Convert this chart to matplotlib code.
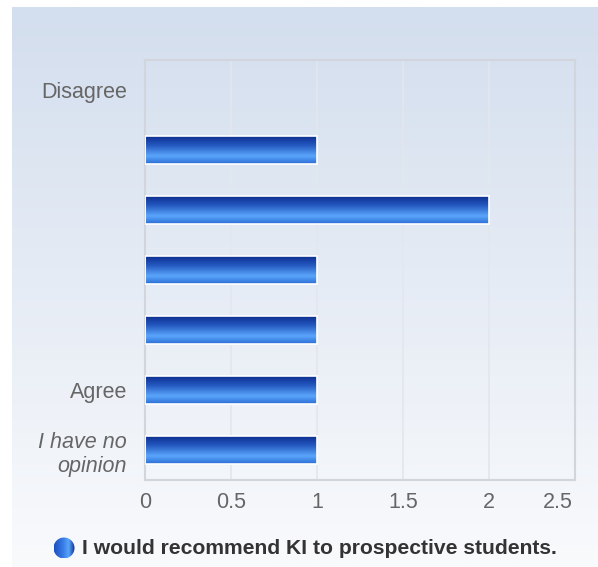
import matplotlib.pyplot as plt
import numpy as np
from matplotlib.colors import LinearSegmentedColormap
from matplotlib.patches import Circle
from matplotlib.transforms import ScaledTranslation

# datos del grafico
categorias = ["Disagree", "", "", "", "", "Agree", "I have no\nopinion"]
valores = [0, 1, 2, 1, 1, 1, 1]
ticks_x = [0, 0.5, 1, 1.5, 2, 2.5]
titulo_serie = "I would recommend KI to prospective students."

plt.rcParams['font.family'] = ['Liberation Sans', 'DejaVu Sans']

W, H = 598, 567
fig = plt.figure(figsize=(W / 100, H / 100), dpi=100)
fig.patch.set_facecolor("white")

# fondo con degradado
bg = fig.add_axes([12 / W, 0, 1 - 12 / W, 1 - 7 / H])
bg.axis("off")
cmap_bg = LinearSegmentedColormap.from_list("bg", ["#d3deee", "#e6ecf5", "#f9fafc"])
grad = np.linspace(0, 1, 256).reshape(-1, 1)
bg.imshow(grad, aspect="auto", cmap=cmap_bg, extent=[0, 1, 0, 1], origin="upper")
bg.set_xlim(0, 1)
bg.set_ylim(0, 1)

# area del grafico
x0, x1, y0, y1 = 145, 575, 60, 480
ax = fig.add_axes([x0 / W, 1 - y1 / H, (x1 - x0) / W, (y1 - y0) / H])
ax.patch.set_alpha(0)

cmap_bar = LinearSegmentedColormap.from_list(
    "bar", [(0, "#0a2a88"), (0.35, "#2458c0"), (0.72, "#5aa6fb"), (1, "#2a6cd4")])

pos = np.arange(len(categorias))
barras = ax.barh(pos, valores, height=0.47, color="none", edgecolor="white",
                 linewidth=1.2, zorder=3)
for b in barras:
    if b.get_width() <= 0:
        b.set_linewidth(0)
        continue
    xb, yb = b.get_x(), b.get_y()
    wb, hb = b.get_width(), b.get_height()
    im = ax.imshow(grad, aspect="auto", cmap=cmap_bar,
                   extent=[xb, xb + wb, yb + hb, yb], origin="upper", zorder=2)
    im.set_clip_path(b)

ax.set_xlim(0, 2.5)
ax.set_ylim(len(categorias) - 0.5, -0.5)
ax.set_xticks(ticks_x)
ax.set_xticklabels([("%g" % t) for t in ticks_x])
ax.set_yticks(pos)
ax.set_yticklabels(categorias)
for lab in ax.get_yticklabels():
    lab.set_multialignment("right")
    if "opinion" in lab.get_text():
        lab.set_style("italic")
ax.tick_params(axis="both", length=0, labelsize=15.5, colors="#666666")
ax.tick_params(axis="x", pad=9)
ax.tick_params(axis="y", pad=13)
# la ultima etiqueta queda dentro del borde
ult = ax.get_xticklabels()[-1]
ult.set_horizontalalignment("right")
ult.set_transform(ult.get_transform() + ScaledTranslation(-2 / 100, 0, fig.dpi_scale_trans))
ax.grid(axis="x", color="#e3e7ed", linewidth=1.2, zorder=0)
ax.set_axisbelow(True)
for s in ax.spines.values():
    s.set_color("#d2d6dc")
    s.set_linewidth(1.5)

# leyenda
cx, cy, r = 64, 548, 10.5
lax = fig.add_axes([(cx - r - 1) / W, 1 - (cy + r + 1) / H, (2 * r + 2) / W, (2 * r + 2) / H])
lax.axis("off")
lax.set_xlim(-r - 1, r + 1)
lax.set_ylim(-r - 1, r + 1)
circ = Circle((0, 0), r, facecolor="none", edgecolor="none")
lax.add_patch(circ)
cmap_ley = LinearSegmentedColormap.from_list(
    "ley", [(0, "#1a4fc0"), (0.45, "#3a7ee8"), (0.7, "#5aa6fb"), (1, "#0a2a88")])
im = lax.imshow(np.linspace(0, 1, 256).reshape(1, -1), aspect="auto", cmap=cmap_ley,
                extent=[-r, r, -r, r])
im.set_clip_path(circ)
fig.text(82 / W, 1 - cy / H, titulo_serie, fontsize=15.2, fontweight="bold",
         color="#333333", va="center", ha="left")

fig.savefig("out.png", dpi=100)
